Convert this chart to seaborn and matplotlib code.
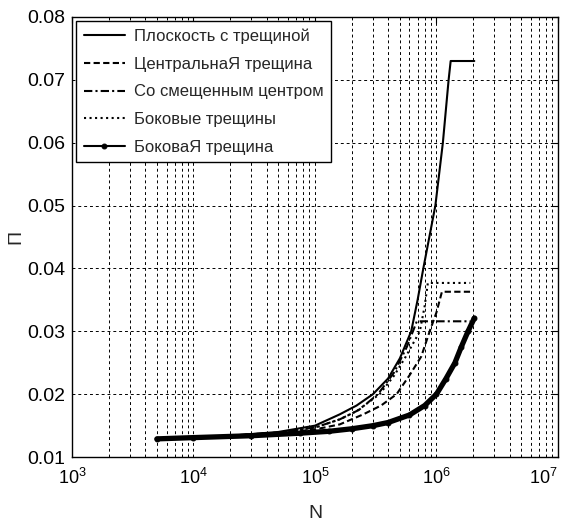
import numpy as np
import pandas as pd
import seaborn as sns
import matplotlib.pyplot as plt
from matplotlib.ticker import LogLocator, NullFormatter, MultipleLocator

# Плоскость с трещиной
n_plane = [5e3, 1e4, 2e4, 5e4, 1e5, 1.6e5, 2.2e5, 3e5, 4e5, 5e5, 6.2e5, 7e5, 7.8e5, 9.8e5, 1.13e6, 1.26e6, 1.31e6, 2.05e6]
p_plane = [0.0129, 0.0131, 0.0134, 0.0140, 0.0150, 0.0168, 0.0182, 0.0200, 0.0225, 0.0257, 0.0300, 0.0350, 0.0400, 0.0500, 0.0600, 0.0700, 0.0730, 0.0730]

# ЦентральнаЯ трещина
n_central = [5e3, 1e4, 5e4, 1e5, 1.6e5, 2.5e5, 3.5e5, 4.7e5, 6e5, 7.5e5, 8.8e5, 1e6, 1.11e6, 1.9e6]
p_central = [0.0129, 0.0131, 0.0138, 0.0144, 0.0152, 0.0168, 0.0182, 0.0200, 0.0230, 0.0260, 0.0300, 0.0330, 0.0363, 0.0363]

# Со смещенным центром
n_offset = [5e3, 1e4, 2e4, 5e4, 1e5, 1.6e5, 2.3e5, 3.3e5, 4.5e5, 5.7e5, 6.9e5, 1.9e6]
p_offset = [0.0129, 0.0131, 0.0134, 0.0139, 0.0147, 0.0160, 0.0175, 0.0200, 0.0235, 0.0275, 0.0316, 0.0316]

# Боковые трещины
n_sides = [5e3, 1e4, 2e4, 5e4, 1e5, 1.6e5, 2.2e5, 3.4e5, 4.5e5, 5.6e5, 7.3e5, 8e5, 8.5e5, 1.9e6]
p_sides = [0.0129, 0.0131, 0.0134, 0.0139, 0.0147, 0.0160, 0.0173, 0.0200, 0.0230, 0.0260, 0.0300, 0.0340, 0.0377, 0.0377]

# БоковаЯ трещина
n_side = [5e3, 1e4, 3e4, 7.5e4, 1.3e5, 2e5, 3e5, 4e5, 6e5, 8e5, 1e6, 1.2e6, 1.42e6, 1.6e6, 1.82e6, 2.05e6]
p_side = [0.0129, 0.0131, 0.0134, 0.0138, 0.0141, 0.0145, 0.0150, 0.0155, 0.0167, 0.0182, 0.0200, 0.0225, 0.0250, 0.0275, 0.0300, 0.0321]

labels = ['Плоскость с трещиной', 'ЦентральнаЯ трещина', 'Со смещенным центром',
          'Боковые трещины', 'БоковаЯ трещина']
x_ticks = [1e3, 1e4, 1e5, 1e6, 1e7]
x_ticklabels = ['$10^{3}$', '$10^{4}$', '$10^{5}$', '$10^{6}$', '$10^{7}$']

sns.set_style("white")
plt.rcParams['font.family'] = ['Liberation Sans', 'DejaVu Sans']
plt.rcParams['mathtext.fontset'] = 'custom'
plt.rcParams['mathtext.rm'] = 'Liberation Sans'

fig = plt.figure(figsize=(5.69, 5.23), dpi=100)
ax = fig.add_axes([0.1265, 0.126, 0.854, 0.8415])

lw = 1.5
sns.lineplot(x=n_plane, y=p_plane, ax=ax, color='black', lw=lw, ls='-',
             sort=False, estimator=None, label=labels[0])
sns.lineplot(x=n_central, y=p_central, ax=ax, color='black', lw=lw, dashes=(3, 1.6),
             sort=False, estimator=None, label=labels[1])
sns.lineplot(x=n_offset, y=p_offset, ax=ax, color='black', lw=lw, dashes=(4, 1.5, 1, 1.5),
             sort=False, estimator=None, label=labels[2])
sns.lineplot(x=n_sides, y=p_sides, ax=ax, color='black', lw=lw, ls=':',
             sort=False, estimator=None, label=labels[3])
sns.lineplot(x=n_side, y=p_side, ax=ax, color='black', lw=lw, ls='-', marker='o', ms=3.5,
             mec='black', mfc='black', sort=False, estimator=None, label=labels[4])
# thick look of the last curve
ax.plot(n_side, p_side, color='black', lw=3.8, solid_capstyle='round', zorder=1)

ax.set_xscale('log')
ax.set_xlim(1e3, 1e7)
ax.set_ylim(0.01, 0.08)
ax.yaxis.set_major_locator(MultipleLocator(0.01))
ax.set_xticks(x_ticks)
xlabs = ax.set_xticklabels(x_ticklabels)
ax.xaxis.set_minor_locator(LogLocator(base=10, subs=np.arange(2, 10)))
ax.xaxis.set_minor_formatter(NullFormatter())
ax.set_yticklabels(['%.2f' % v for v in ax.get_yticks()])
# keep the 10^7 label inside the canvas
xlabs[-1].set_horizontalalignment('right')
xlabs[-1].set_x(1e7)

ax.grid(True, which='major', axis='both', color='black', ls=(0, (3, 3)), lw=0.7)
ax.grid(True, which='minor', axis='x', color='black', ls=(0, (3, 3)), lw=0.7)
ax.tick_params(axis='both', which='both', direction='in', top=True, right=True,
               colors='black', length=4)
ax.tick_params(axis='x', which='minor', length=2)
ax.tick_params(axis='x', labelsize=13, pad=8)
ax.tick_params(axis='y', labelsize=14, pad=5)
for s in ax.spines.values():
    s.set_color('black')
    s.set_linewidth(1)

ax.set_xlabel('N', fontsize=14, labelpad=12)
ax.set_ylabel('П', fontsize=14, labelpad=2)

leg = ax.legend(loc='upper left', fontsize=12, frameon=True, fancybox=False,
                edgecolor='black', framealpha=1, handlelength=2.5, borderpad=0.45,
                labelspacing=0.76, borderaxespad=0.25, handletextpad=0.5)
leg.get_frame().set_linewidth(1)

fig.savefig('out.png', dpi=100)
